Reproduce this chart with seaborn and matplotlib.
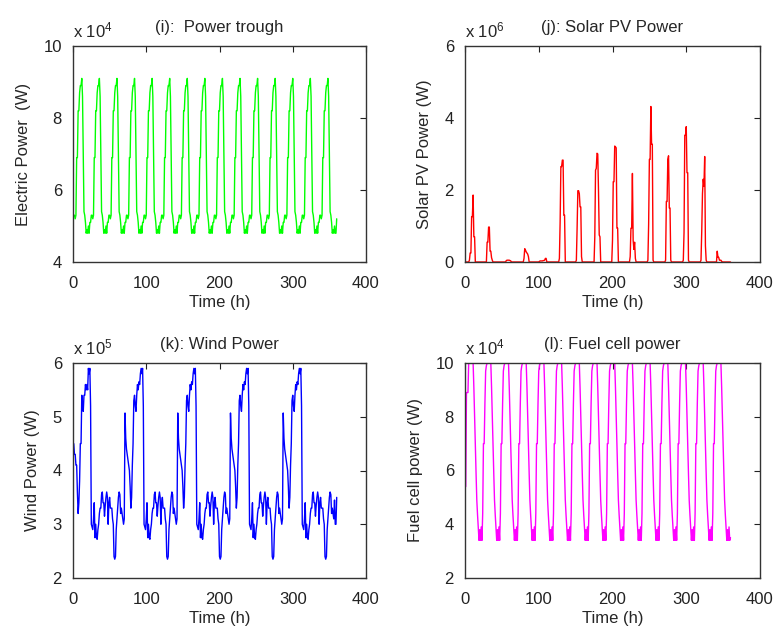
import numpy as np
import pandas as pd
import matplotlib
matplotlib.use("Agg")
import matplotlib.pyplot as plt
import seaborn as sns

# ---------------- data (hourly, t = 1..360) ----------------
# Power trough, electric power, units of 1e4 W (one row per day)
power_trough = [
    [5.3, 5.3, 5.2, 5.3, 6.9, 6.9, 8.2, 8.2, 8.7, 8.9, 8.9, 9.1, 8.6, 6.9, 5.4, 5.3, 5.1, 4.8, 4.9, 4.8, 5.0, 4.8, 5.1, 5.1],
    [5.3, 5.3, 5.2, 5.3, 6.9, 6.9, 8.2, 8.2, 8.7, 8.9, 8.9, 9.1, 8.6, 6.9, 5.4, 5.3, 5.1, 4.8, 4.9, 4.8, 5.0, 4.8, 5.1, 5.1],
    [5.3, 5.3, 5.2, 5.3, 6.9, 6.9, 8.2, 8.2, 8.7, 8.9, 8.9, 9.1, 8.6, 6.9, 5.4, 5.3, 5.1, 4.8, 4.9, 4.8, 5.0, 4.8, 5.1, 5.1],
    [5.3, 5.3, 5.2, 5.3, 6.9, 6.9, 8.2, 8.2, 8.7, 8.9, 8.9, 9.1, 8.6, 6.9, 5.4, 5.3, 5.1, 4.8, 4.9, 4.8, 5.0, 4.8, 5.1, 5.1],
    [5.3, 5.3, 5.2, 5.3, 6.9, 6.9, 8.2, 8.2, 8.7, 8.9, 8.9, 9.1, 8.6, 6.9, 5.4, 5.3, 5.1, 4.8, 4.9, 4.8, 5.0, 4.8, 5.1, 5.1],
    [5.3, 5.3, 5.2, 5.3, 6.9, 6.9, 8.2, 8.2, 8.7, 8.9, 8.9, 9.1, 8.6, 6.9, 5.4, 5.3, 5.1, 4.8, 4.9, 4.8, 5.0, 4.8, 5.1, 5.1],
    [5.3, 5.3, 5.2, 5.3, 6.9, 6.9, 8.2, 8.2, 8.7, 8.9, 8.9, 9.1, 8.6, 6.9, 5.4, 5.3, 5.1, 4.8, 4.9, 4.8, 5.0, 4.8, 5.1, 5.1],
    [5.3, 5.3, 5.2, 5.3, 6.9, 6.9, 8.2, 8.2, 8.7, 8.9, 8.9, 9.1, 8.6, 6.9, 5.4, 5.3, 5.1, 4.8, 4.9, 4.8, 5.0, 4.8, 5.1, 5.1],
    [5.3, 5.3, 5.2, 5.3, 6.9, 6.9, 8.2, 8.2, 8.7, 8.9, 8.9, 9.1, 8.6, 6.9, 5.4, 5.3, 5.1, 4.8, 4.9, 4.8, 5.0, 4.8, 5.1, 5.1],
    [5.3, 5.3, 5.2, 5.3, 6.9, 6.9, 8.2, 8.2, 8.7, 8.9, 8.9, 9.1, 8.6, 6.9, 5.4, 5.3, 5.1, 4.8, 4.9, 4.8, 5.0, 4.8, 5.1, 5.1],
    [5.3, 5.3, 5.2, 5.3, 6.9, 6.9, 8.2, 8.2, 8.7, 8.9, 8.9, 9.1, 8.6, 6.9, 5.4, 5.3, 5.1, 4.8, 4.9, 4.8, 5.0, 4.8, 5.1, 5.1],
    [5.3, 5.3, 5.2, 5.3, 6.9, 6.9, 8.2, 8.2, 8.7, 8.9, 8.9, 9.1, 8.6, 6.9, 5.4, 5.3, 5.1, 4.8, 4.9, 4.8, 5.0, 4.8, 5.1, 5.1],
    [5.3, 5.3, 5.2, 5.3, 6.9, 6.9, 8.2, 8.2, 8.7, 8.9, 8.9, 9.1, 8.6, 6.9, 5.4, 5.3, 5.1, 4.8, 4.9, 4.8, 5.0, 4.8, 5.1, 5.1],
    [5.3, 5.3, 5.2, 5.3, 6.9, 6.9, 8.2, 8.2, 8.7, 8.9, 8.9, 9.1, 8.6, 6.9, 5.4, 5.3, 5.1, 4.8, 4.9, 4.8, 5.0, 4.8, 5.1, 5.1],
    [5.3, 5.3, 5.2, 5.3, 6.9, 6.9, 8.2, 8.2, 8.7, 8.9, 8.9, 9.1, 8.6, 6.9, 5.4, 5.3, 5.1, 4.8, 4.9, 4.8, 5.0, 4.8, 4.8, 5.2],
]

# Solar PV power, units of 1e6 W (one row per day)
solar_pv = [
    [0, 0, 0, 0, 0, 0.05, 0.25, 0.25, 1.26, 1.26, 1.86, 0.7, 0.7, 0, 0, 0, 0, 0, 0, 0, 0, 0, 0, 0],
    [0, 0, 0, 0, 0, 0.55, 0.55, 0.97, 0.97, 0.3, 0.3, 0.12, 0.05, 0, 0, 0, 0, 0, 0, 0, 0, 0, 0, 0],
    [0, 0, 0, 0, 0, 0, 0, 0.04, 0.05, 0.05, 0.05, 0.05, 0.04, 0.03, 0, 0, 0, 0, 0, 0, 0, 0, 0, 0],
    [0, 0, 0, 0, 0, 0, 0, 0.1, 0.37, 0.33, 0.28, 0.25, 0.22, 0.15, 0, 0, 0, 0, 0, 0, 0, 0, 0, 0],
    [0, 0, 0, 0, 0.02, 0.03, 0.03, 0.03, 0.03, 0.04, 0.04, 0.05, 0.1, 0.1, 0, 0, 0, 0, 0, 0, 0, 0, 0, 0],
    [0, 0, 0, 0, 0, 0, 0, 0.1, 1.12, 2.65, 2.65, 2.83, 2.83, 1.3, 1.3, 0, 0, 0, 0, 0, 0, 0, 0, 0],
    [0, 0, 0, 0, 0, 0, 0.05, 0.93, 1.98, 1.98, 1.9, 1.53, 1.53, 0.15, 0, 0, 0, 0, 0, 0, 0, 0, 0, 0],
    [0, 0, 0, 0, 0, 0, 0, 0.7, 2.55, 2.6, 3.02, 3.0, 2.0, 0.75, 0.7, 0, 0, 0, 0, 0, 0, 0, 0, 0],
    [0, 0, 0, 0, 0, 0, 0, 0.6, 2.23, 2.23, 3.22, 3.2, 3.17, 0.94, 0.94, 0, 0, 0, 0, 0, 0, 0, 0, 0],
    [0, 0, 0, 0, 0, 0, 0, 0.15, 0.94, 0.94, 2.46, 0.6, 0.35, 0.55, 0.1, 0, 0, 0, 0, 0, 0, 0, 0, 0],
    [0, 0, 0, 0, 0, 0, 0, 0.05, 1.05, 2.85, 2.85, 4.32, 3.27, 3.27, 0.05, 0, 0, 0, 0, 0, 0, 0, 0, 0],
    [0, 0, 0, 0, 0, 0, 0, 0.05, 1.68, 1.68, 2.85, 2.95, 1.5, 1.5, 0.05, 0, 0, 0, 0, 0, 0, 0, 0, 0],
    [0, 0, 0, 0, 0, 0, 0, 0.05, 0.82, 3.52, 3.52, 3.76, 2.48, 2.48, 0.05, 0, 0, 0, 0, 0, 0, 0, 0, 0],
    [0, 0, 0, 0, 0, 0, 0, 0.05, 0.85, 1.9, 2.3, 2.1, 2.93, 0.45, 0.05, 0, 0, 0, 0, 0, 0, 0, 0, 0],
    [0, 0, 0, 0, 0, 0.3, 0.13, 0.13, 0.05, 0.05, 0.05, 0.02, 0, 0, 0, 0, 0, 0, 0, 0, 0, 0, 0, 0],
]

# Wind power, units of 1e5 W (one row per day)
wind_power = [
    [4.5, 4.3, 4.3, 4.1, 4.1, 3.6, 3.2, 3.4, 3.8, 4.5, 4.5, 5.4, 5.2, 5.1, 5.4, 5.4, 5.6, 5.5, 5.6, 5.5, 5.9, 5.8, 5.9, 5.2],
    [3.0, 2.95, 2.9, 3.1, 3.4, 2.75, 3.0, 2.75, 2.72, 2.9, 3.0, 3.2, 3.3, 3.3, 3.55, 3.6, 3.4, 3.4, 3.15, 3.35, 3.5, 3.6, 3.5, 3.0],
    [3.4, 3.5, 3.3, 3.3, 3.3, 3.1, 3.0, 2.4, 2.35, 2.4, 2.9, 3.1, 3.3, 3.5, 3.6, 3.55, 3.2, 3.3, 3.2, 3.1, 3.0, 3.1, 5.07, 4.6],
    [4.4, 4.3, 4.2, 4.1, 4.0, 3.7, 3.3, 3.5, 4.1, 4.5, 5.3, 5.4, 5.2, 5.1, 5.4, 5.6, 5.5, 5.65, 5.6, 5.8, 5.9, 5.8, 5.9, 5.2],
    [3.0, 2.95, 2.9, 3.1, 3.4, 2.75, 3.0, 2.75, 2.72, 2.9, 3.0, 3.2, 3.3, 3.3, 3.55, 3.6, 3.4, 3.4, 3.15, 3.35, 3.5, 3.6, 3.5, 3.0],
    [3.4, 3.5, 3.3, 3.3, 3.3, 3.1, 3.0, 2.4, 2.35, 2.4, 2.9, 3.1, 3.3, 3.5, 3.6, 3.55, 3.2, 3.3, 3.2, 3.1, 3.0, 3.1, 5.07, 4.6],
    [4.4, 4.3, 4.2, 4.1, 4.0, 3.7, 3.3, 3.5, 4.1, 4.5, 5.3, 5.4, 5.2, 5.1, 5.4, 5.6, 5.5, 5.65, 5.6, 5.8, 5.9, 5.8, 5.9, 5.2],
    [3.0, 2.95, 2.9, 3.1, 3.4, 2.75, 3.0, 2.75, 2.72, 2.9, 3.0, 3.2, 3.3, 3.3, 3.55, 3.6, 3.4, 3.4, 3.15, 3.35, 3.5, 3.6, 3.5, 3.0],
    [3.4, 3.5, 3.3, 3.3, 3.3, 3.1, 3.0, 2.4, 2.35, 2.4, 2.9, 3.1, 3.3, 3.5, 3.6, 3.55, 3.2, 3.3, 3.2, 3.1, 3.0, 3.1, 5.07, 4.6],
    [4.4, 4.3, 4.2, 4.1, 4.0, 3.7, 3.3, 3.5, 4.1, 4.5, 5.3, 5.4, 5.2, 5.1, 5.4, 5.6, 5.5, 5.65, 5.6, 5.8, 5.9, 5.8, 5.9, 5.2],
    [3.0, 2.95, 2.9, 3.1, 3.4, 2.75, 3.0, 2.75, 2.72, 2.9, 3.0, 3.2, 3.3, 3.3, 3.55, 3.6, 3.4, 3.4, 3.15, 3.35, 3.5, 3.6, 3.5, 3.0],
    [3.4, 3.5, 3.3, 3.3, 3.3, 3.1, 3.0, 2.4, 2.35, 2.4, 2.9, 3.1, 3.3, 3.5, 3.6, 3.55, 3.2, 3.3, 3.2, 3.1, 3.0, 3.1, 5.07, 4.6],
    [4.4, 4.3, 4.2, 4.1, 4.0, 3.7, 3.3, 3.5, 4.1, 4.5, 5.3, 5.4, 5.2, 5.1, 5.4, 5.6, 5.5, 5.65, 5.6, 5.8, 5.9, 5.8, 5.9, 5.2],
    [3.0, 2.95, 2.9, 3.1, 3.4, 2.75, 3.0, 2.75, 2.72, 2.9, 3.0, 3.2, 3.3, 3.3, 3.55, 3.6, 3.4, 3.4, 3.15, 3.35, 3.5, 3.6, 3.5, 3.0],
    [3.4, 3.5, 3.3, 3.3, 3.3, 3.1, 3.0, 2.4, 2.35, 2.4, 2.9, 3.1, 3.3, 3.5, 3.6, 3.55, 3.2, 3.3, 3.2, 3.1, 3.45, 3.0, 3.0, 3.5],
]

# Fuel cell power, units of 1e4 W (one row per day)
fuel_cell = [
    [5.4, 8.9, 8.9, 8.9, 10, 10, 10, 10, 10, 10, 10, 9.1, 8.0, 7.0, 5.9, 4.9, 4.35, 3.9, 3.4, 3.8, 3.4, 3.9, 3.4, 4.4],
    [7.0, 7.0, 8.5, 9.7, 9.9, 10, 10, 10, 10, 10, 10, 9.1, 8.0, 7.0, 5.9, 4.9, 4.35, 3.9, 3.4, 3.8, 3.4, 3.9, 3.4, 4.4],
    [7.0, 7.0, 8.5, 9.7, 9.9, 10, 10, 10, 10, 10, 10, 9.1, 8.0, 7.0, 5.9, 4.9, 4.35, 3.9, 3.4, 3.8, 3.4, 3.9, 3.4, 4.4],
    [7.0, 7.0, 8.5, 9.7, 9.9, 10, 10, 10, 10, 10, 10, 9.1, 8.0, 7.0, 5.9, 4.9, 4.35, 3.9, 3.4, 3.8, 3.4, 3.9, 3.4, 4.4],
    [7.0, 7.0, 8.5, 9.7, 9.9, 10, 10, 10, 10, 10, 10, 9.1, 8.0, 7.0, 5.9, 4.9, 4.35, 3.9, 3.4, 3.8, 3.4, 3.9, 3.4, 4.4],
    [7.0, 7.0, 8.5, 9.7, 9.9, 10, 10, 10, 10, 10, 10, 9.1, 8.0, 7.0, 5.9, 4.9, 4.35, 3.9, 3.4, 3.8, 3.4, 3.9, 3.4, 4.4],
    [7.0, 7.0, 8.5, 9.7, 9.9, 10, 10, 10, 10, 10, 10, 9.1, 8.0, 7.0, 5.9, 4.9, 4.35, 3.9, 3.4, 3.8, 3.4, 3.9, 3.4, 4.4],
    [7.0, 7.0, 8.5, 9.7, 9.9, 10, 10, 10, 10, 10, 10, 9.1, 8.0, 7.0, 5.9, 4.9, 4.35, 3.9, 3.4, 3.8, 3.4, 3.9, 3.4, 4.4],
    [7.0, 7.0, 8.5, 9.7, 9.9, 10, 10, 10, 10, 10, 10, 9.1, 8.0, 7.0, 5.9, 4.9, 4.35, 3.9, 3.4, 3.8, 3.4, 3.9, 3.4, 4.4],
    [7.0, 7.0, 8.5, 9.7, 9.9, 10, 10, 10, 10, 10, 10, 9.1, 8.0, 7.0, 5.9, 4.9, 4.35, 3.9, 3.4, 3.8, 3.4, 3.9, 3.4, 4.4],
    [7.0, 7.0, 8.5, 9.7, 9.9, 10, 10, 10, 10, 10, 10, 9.1, 8.0, 7.0, 5.9, 4.9, 4.35, 3.9, 3.4, 3.8, 3.4, 3.9, 3.4, 4.4],
    [7.0, 7.0, 8.5, 9.7, 9.9, 10, 10, 10, 10, 10, 10, 9.1, 8.0, 7.0, 5.9, 4.9, 4.35, 3.9, 3.4, 3.8, 3.4, 3.9, 3.4, 4.4],
    [7.0, 7.0, 8.5, 9.7, 9.9, 10, 10, 10, 10, 10, 10, 9.1, 8.0, 7.0, 5.9, 4.9, 4.35, 3.9, 3.4, 3.8, 3.4, 3.9, 3.4, 4.4],
    [7.0, 7.0, 8.5, 9.7, 9.9, 10, 10, 10, 10, 10, 10, 9.1, 8.0, 7.0, 5.9, 4.9, 4.35, 3.9, 3.4, 3.8, 3.4, 3.9, 3.4, 4.4],
    [7.0, 7.0, 8.5, 9.7, 9.9, 10, 10, 10, 10, 10, 10, 9.1, 8.0, 7.0, 5.9, 4.9, 4.35, 3.9, 3.4, 3.8, 3.4, 3.9, 3.4, 3.5],
]

hours = list(range(1, 361))
x_ticks = [0, 100, 200, 300, 400]

panels = [
    dict(values=power_trough, color="#00ff00", title="(i):  Power trough",
         ylabel="Electric Power  (W)", exp="4", ylim=(4, 10), yticks=[4, 6, 8, 10]),
    dict(values=solar_pv, color="#ff0000", title="(j): Solar PV Power",
         ylabel="Solar PV Power (W)", exp="6", ylim=(0, 6), yticks=[0, 2, 4, 6]),
    dict(values=wind_power, color="#0000ff", title="(k): Wind Power",
         ylabel="Wind Power (W)", exp="5", ylim=(2, 6), yticks=[2, 3, 4, 5, 6]),
    dict(values=fuel_cell, color="#ff00ff", title="(l): Fuel cell power",
         ylabel="Fuel cell power (W)", exp="4", ylim=(2, 10), yticks=[2, 4, 6, 8, 10]),
]

# ---------------- style ----------------
sns.set_style("white")
plt.rcParams["font.family"] = ["Liberation Sans", "DejaVu Sans"]
plt.rcParams["mathtext.fontset"] = "custom"
plt.rcParams["mathtext.rm"] = "Liberation Sans"
plt.rcParams["mathtext.it"] = "Liberation Sans"
plt.rcParams["font.size"] = 11.5

W, H = 776, 636
fig = plt.figure(figsize=(W / 100, H / 100), dpi=100)
fig.patch.set_facecolor("white")

rects = [
    (73, 46, 293, 216),
    (465, 46, 295, 216),
    (73, 363, 293, 215),
    (465, 363, 295, 215),
]

for p, (px, py, pw, ph) in zip(panels, rects):
    ax = fig.add_axes([px / W, 1 - (py + ph) / H, pw / W, ph / H])
    series = [v for row in p["values"] for v in row]
    df = pd.DataFrame({"Time (h)": hours, "value": series})
    sns.lineplot(data=df, x="Time (h)", y="value", ax=ax, color=p["color"],
                 linewidth=1.0, estimator=None, errorbar=None)
    ax.set_xlim(0, 400)
    ax.set_ylim(*p["ylim"])
    ax.set_xticks(x_ticks)
    ax.set_yticks(p["yticks"])
    ax.set_xlabel("Time (h)", fontsize=12, labelpad=3)
    ax.set_ylabel(p["ylabel"], fontsize=12, labelpad=9)
    ax.set_title(p["title"], fontsize=12, pad=10)
    ax.tick_params(direction="in", top=True, right=True, length=4, width=0.8,
                   labelsize=12, colors="#222222")
    ax.tick_params(axis="x", pad=10)
    ax.tick_params(axis="y", pad=8)
    for s in ax.spines.values():
        s.set_visible(True)
        s.set_color("#333333")
        s.set_linewidth(1.0)
    ax.annotate(r"x 10$^{%s}$" % p["exp"], xy=(0, 1), xycoords="axes fraction",
                xytext=(0, 4), textcoords="offset points", ha="left", va="bottom",
                fontsize=12)

fig.savefig("out.png", dpi=100, facecolor="white")
